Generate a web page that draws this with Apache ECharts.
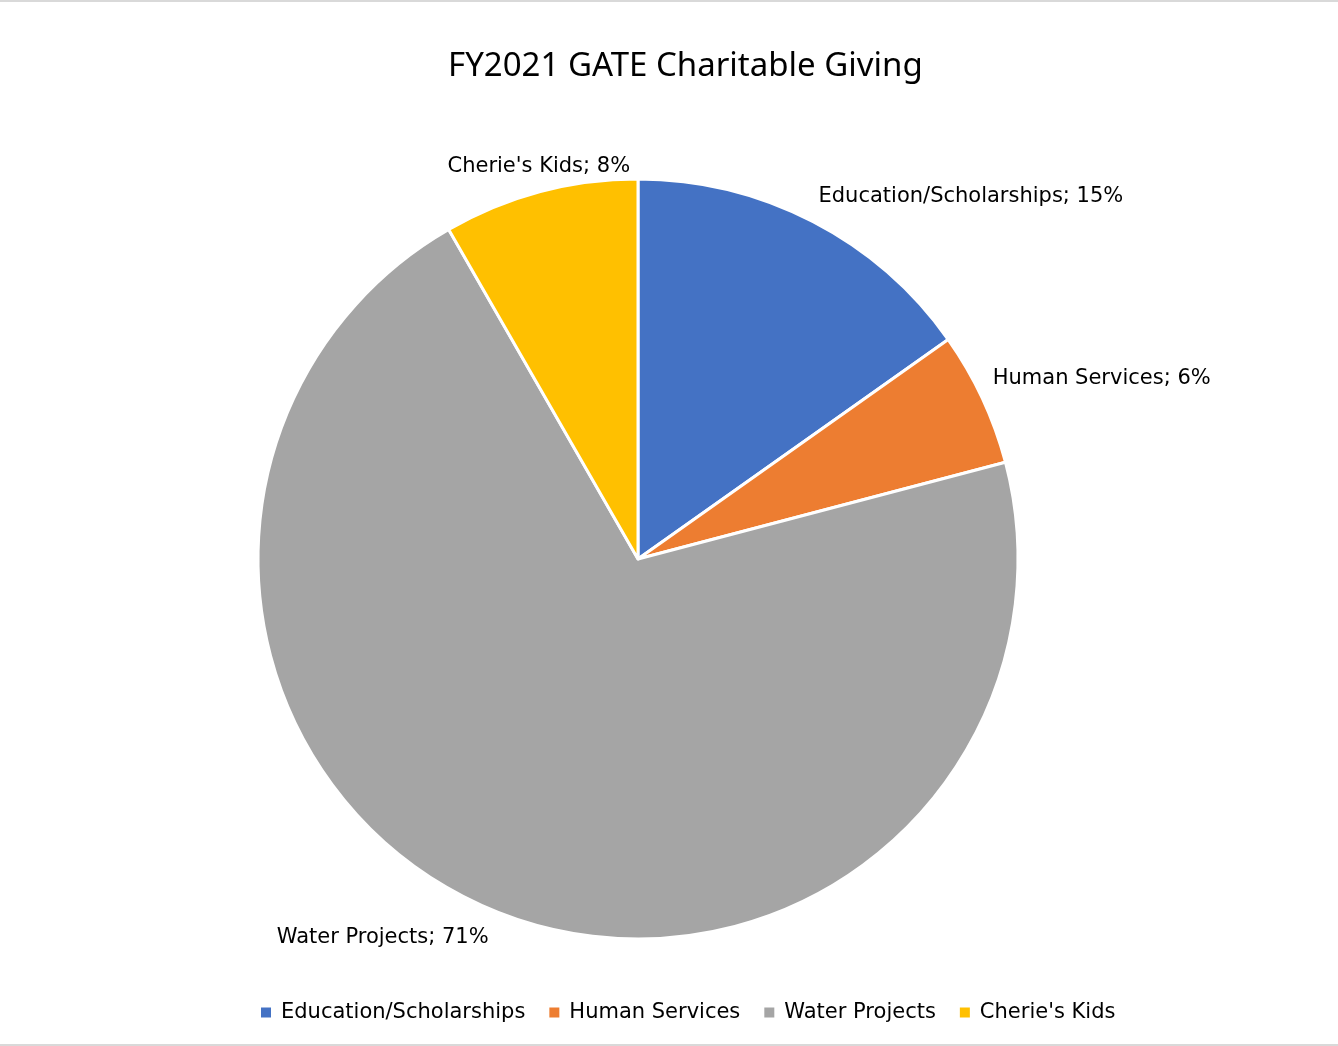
<!DOCTYPE html>
<html>
<head>
<meta charset="utf-8">
<script src="https://cdn.jsdelivr.net/npm/echarts@6/dist/echarts.min.js"></script>
<style>
html,body{margin:0;padding:0;background:#fff;}
#frame{position:absolute;left:0;top:0;width:1338px;height:1046px;box-sizing:border-box;border-top:2px solid #d9d9d9;border-bottom:2px solid #d9d9d9;}
#chart{width:1338px;height:1042px;}
</style>
</head>
<body>
<div id="frame"><div id="chart"></div></div>
<script>
const categories = ['Education/Scholarships', 'Human Services', 'Water Projects', "Cherie's Kids"];
const values = [15.2, 5.7, 70.8, 8.3];
const colors = ['#4472C4', '#ED7D31', '#A5A5A5', '#FFC000'];
const titleText = 'FY2021 GATE Charitable Giving';

const TFONT = '"Noto Sans", "Open Sans", sans-serif';
const LFONT = '"DejaVu Sans", "Noto Sans", sans-serif';
// small label nudges to mimic the original "best fit" placement
const labelNudge = [[-12, 0], [-20, -8], [13, 2], [11, 2]];

const chart = echarts.init(document.getElementById('chart'));
chart.setOption({
  animation: false,
  color: colors,
  title: {
    text: titleText,
    left: 443,
    top: 43,
    textStyle: { fontFamily: TFONT, fontSize: 33, fontWeight: 'normal', color: '#000' }
  },
  legend: {
    bottom: 16,
    left: 256,
    icon: 'rect',
    itemWidth: 10,
    itemHeight: 10,
    itemGap: 24,
    itemStyle: { borderWidth: 0 },
    textStyle: { fontFamily: LFONT, fontSize: 21, color: '#000', padding: [0, 0, 0, 5] },
    data: categories
  },
  series: [{
    type: 'pie',
    center: [638, 557],
    radius: 380,
    startAngle: 90,
    clockwise: true,
    itemStyle: { borderColor: '#fff', borderWidth: 3 },
    label: {
      show: true,
      position: 'outside',
      fontFamily: LFONT,
      fontSize: 21,
      color: '#000',
      formatter: p => p.name + '; ' + Math.round(p.value) + '%'
    },
    labelLine: { show: false, length: 28, length2: 0 },
    labelLayout: function (params) {
      const n = labelNudge[params.dataIndex];
      const r = { dx: n[0], dy: n[1] };
      if (params.dataIndex === 3) r.align = 'center';
      return r;
    },
    emphasis: { disabled: true },
    data: categories.map((c, i) => ({ name: c, value: values[i] }))
  }]
});
</script>
</body>
</html>
